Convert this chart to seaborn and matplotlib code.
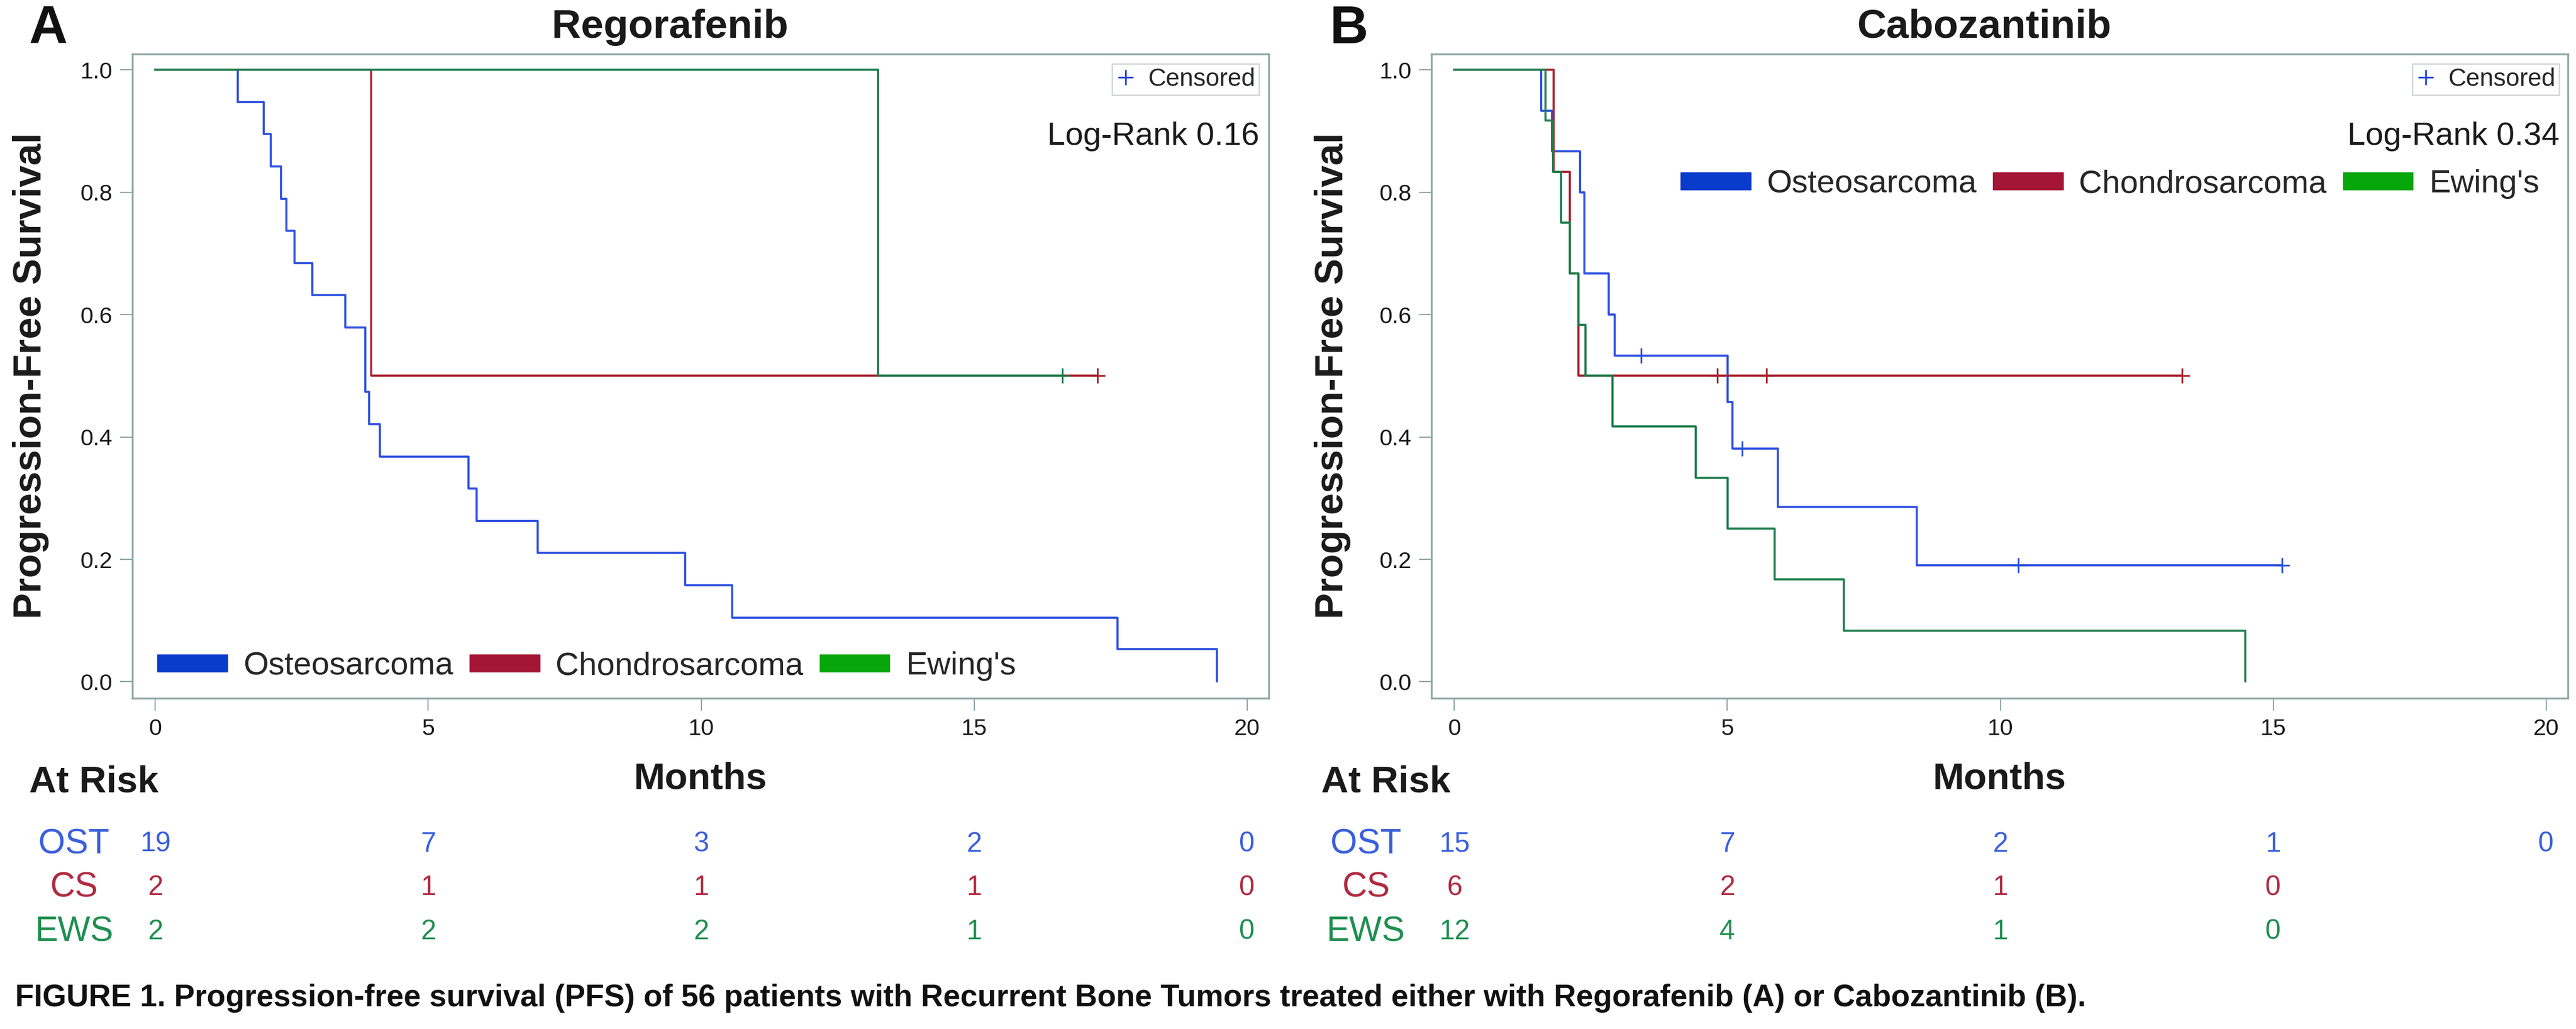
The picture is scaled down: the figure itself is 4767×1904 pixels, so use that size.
import matplotlib
matplotlib.use("Agg")
import matplotlib.pyplot as plt
import matplotlib.transforms as mtransforms
from matplotlib.patches import Patch
from matplotlib.lines import Line2D
import pandas as pd
import seaborn as sns

# ---- data ----
groups = ["Osteosarcoma", "Chondrosarcoma", "Ewing's"]
row_labels = ["OST", "CS", "EWS"]

# Regorafenib (A)
reg_ost_t = [0, 1.51, 1.99, 2.11, 2.30, 2.40, 2.55, 2.88, 3.48, 3.85, 3.92, 4.11,
             5.74, 5.89, 7.01, 9.71, 10.57, 17.63, 19.45]
reg_ost_s = [1.0, 0.947, 0.895, 0.842, 0.789, 0.737, 0.684, 0.632, 0.579, 0.474,
             0.421, 0.368, 0.316, 0.263, 0.211, 0.158, 0.105, 0.053, 0.0]
reg_cs_t = [0, 3.96, 17.26]
reg_cs_s = [1.0, 0.5, 0.5]
reg_ews_t = [0, 13.24, 16.62]
reg_ews_s = [1.0, 0.5, 0.5]
reg_cens_t = {"Osteosarcoma": [], "Chondrosarcoma": [17.26], "Ewing's": [16.62]}
reg_cens_s = {"Osteosarcoma": [], "Chondrosarcoma": [0.5], "Ewing's": [0.5]}

# Cabozantinib (B)
cab_ost_t = [0, 1.59, 1.79, 2.30, 2.38, 2.83, 2.94, 5.01, 5.09, 5.93, 8.47, 15.16]
cab_ost_s = [1.0, 0.933, 0.867, 0.8, 0.667, 0.6, 0.533, 0.457, 0.381, 0.286, 0.19, 0.19]
cab_cs_t = [0, 1.82, 2.11, 2.27, 13.33]
cab_cs_s = [1.0, 0.833, 0.667, 0.5, 0.5]
cab_ews_t = [0, 1.67, 1.81, 1.96, 2.11, 2.27, 2.40, 2.90, 4.42, 5.01, 5.87, 7.13, 14.49]
cab_ews_s = [1.0, 0.917, 0.833, 0.75, 0.667, 0.583, 0.5, 0.417, 0.333, 0.25, 0.167,
             0.083, 0.0]
cab_cens_t = {"Osteosarcoma": [3.42, 5.27, 10.33, 15.16],
              "Chondrosarcoma": [4.82, 5.72, 13.33], "Ewing's": []}
cab_cens_s = {"Osteosarcoma": [0.533, 0.381, 0.19, 0.19],
              "Chondrosarcoma": [0.5, 0.5, 0.5], "Ewing's": []}

# numbers at risk
risk_times = [0, 5, 10, 15, 20]
reg_risk = [[19, 7, 3, 2, 0], [2, 1, 1, 1, 0], [2, 2, 2, 1, 0]]
cab_risk = [[15, 7, 2, 1, 0], [6, 2, 1, 0], [12, 4, 1, 0]]

line_colors = {"Osteosarcoma": "#2f52e0", "Chondrosarcoma": "#a8232f", "Ewing's": "#1d7d4c"}
patch_colors = ["#0a3ccc", "#a51535", "#07a60a"]
risk_colors = ["#3a5fdc", "#b02a40", "#1f8f50"]
frame_col = "#8fa6a6"

W, H = 4767, 1904


def fx(px):
    return px / W


def fy(py):
    return 1 - py / H


def make_df(ost_t, ost_s, cs_t, cs_s, ews_t, ews_s):
    parts = []
    for g, t, s in zip(groups, [ost_t, cs_t, ews_t], [ost_s, cs_s, ews_s]):
        parts.append(pd.DataFrame({"time": t, "surv": s, "group": g}))
    return pd.concat(parts, ignore_index=True)


sns.set_style("white")
plt.rcParams["font.family"] = ["Liberation Sans", "DejaVu Sans"]

fig = plt.figure(figsize=(W / 100, H / 100), dpi=100)

panels = [
    dict(df=make_df(reg_ost_t, reg_ost_s, reg_cs_t, reg_cs_s, reg_ews_t, reg_ews_s),
         ct=reg_cens_t, cs=reg_cens_s, risk=reg_risk, left=245, title="Regorafenib",
         title_x=1240, letter="A", letter_x=54, ylab_x=57, logrank="Log-Rank 0.16",
         right=2330, leg_x=291, leg_y=1233, risk_lab_x=137),
    dict(df=make_df(cab_ost_t, cab_ost_s, cab_cs_t, cab_cs_s, cab_ews_t, cab_ews_s),
         ct=cab_cens_t, cs=cab_cens_s, risk=cab_risk, left=2649, title="Cabozantinib",
         title_x=3672, letter="B", letter_x=2460, ylab_x=2466, logrank="Log-Rank 0.34",
         right=4736, leg_x=3110, leg_y=341, risk_lab_x=2528),
]

for p in panels:
    ax = fig.add_axes([fx(p["left"]), fy(1292), 2103 / W, 1192 / H])
    sns.lineplot(data=p["df"], x="time", y="surv", hue="group", hue_order=groups,
                 palette=line_colors, estimator=None, sort=False,
                 drawstyle="steps-post", linewidth=2.8, legend=False, ax=ax)
    for g in groups:
        ax.plot(p["ct"][g], p["cs"][g], linestyle="none", marker="+",
                markersize=20, markeredgewidth=2.3, color=line_colors[g])

    ax.set_xlim(-0.42, 20.4)
    ax.set_ylim(-0.027, 1.026)
    ax.set_xticks([0, 5, 10, 15, 20])
    ax.set_yticks([0, 0.2, 0.4, 0.6, 0.8, 1.0])
    ax.set_yticklabels(["0.0", "0.2", "0.4", "0.6", "0.8", "1.0"])
    ax.set_xlabel("")
    ax.set_ylabel("")
    for sp in ax.spines.values():
        sp.set_visible(True)
        sp.set_color(frame_col)
        sp.set_linewidth(2.5)
    ax.tick_params(axis="both", direction="out", length=16.5, width=1.6,
                   color=frame_col, labelsize=31, labelcolor="#1a1a1a")
    ax.tick_params(axis="x", pad=10)
    ax.tick_params(axis="y", pad=10)
    ax.tick_params(left=True, bottom=True)

    # censored key
    cens_handle = Line2D([], [], linestyle="none", marker="+", markersize=20,
                         markeredgewidth=2.3, color="#2040e0")
    leg1 = ax.legend([cens_handle], ["Censored"], loc="upper right",
                     bbox_to_anchor=(fx(p["right"]), fy(118)),
                     bbox_transform=fig.transFigure, fontsize=33, frameon=True,
                     fancybox=False, borderpad=0.15, handlelength=0.8,
                     handletextpad=0.5, borderaxespad=0)
    leg1.get_frame().set_edgecolor("#c5d0d0")
    leg1.get_frame().set_linewidth(2)
    ax.add_artist(leg1)

    # group key
    handles = [Patch(facecolor=c, edgecolor=c) for c in patch_colors]
    ax.legend(handles, groups, loc="center left", ncol=3,
              bbox_to_anchor=(fx(p["leg_x"]), fy(p["leg_y"])),
              bbox_transform=fig.transFigure, fontsize=43, frameon=False,
              borderpad=0, borderaxespad=0, handlelength=2.17, handleheight=0.45,
              handletextpad=0.5, columnspacing=0.5)

    # texts around the panel
    fig.text(fx(p["right"]), fy(268), p["logrank"], ha="right", va="baseline",
             fontsize=43, color="#1a1a1a")
    fig.text(fx(p["title_x"]), fy(70), p["title"], ha="center", va="baseline",
             fontsize=54, fontweight="bold", color="#1a1a1a")
    fig.text(fx(p["letter_x"]), fy(80), p["letter"], ha="left", va="baseline",
             fontsize=71, fontweight="bold", color="#111111")
    fig.text(fx(p["ylab_x"]), fy(695), "Progression-Free Survival", rotation=90,
             ha="center", va="center", fontsize=52, fontweight="bold", color="#1a1a1a")
    fig.text(fx(p["left"] + 1051), fy(1460), "Months", ha="center", va="baseline",
             fontsize=50, fontweight="bold", color="#1a1a1a")
    fig.text(fx(p["risk_lab_x"] - 83), fy(1465), "At Risk", ha="left", va="baseline",
             fontsize=50, fontweight="bold", color="#1a1a1a")

    # at-risk table, x follows the data axis
    trans = mtransforms.blended_transform_factory(ax.transData, fig.transFigure)
    for i, (lab, vals) in enumerate(zip(row_labels, p["risk"])):
        yc = fy(1562 + 81 * i)
        fig.text(fx(p["risk_lab_x"]), yc, lab, ha="center", va="center",
                 fontsize=46, color=risk_colors[i])
        for t, v in zip(risk_times, vals):
            ax.text(t, yc, str(v), transform=trans, ha="center", va="center",
                    fontsize=37, color=risk_colors[i], clip_on=False)

fig.text(fx(28), fy(1862), "FIGURE 1. Progression-free survival (PFS) of 56 patients with "
         "Recurrent Bone Tumors treated either with Regorafenib (A) or Cabozantinib (B).",
         ha="left", va="baseline", fontsize=41, fontweight="bold", color="#111111")

fig.savefig("out.png", dpi=100, facecolor="white")
